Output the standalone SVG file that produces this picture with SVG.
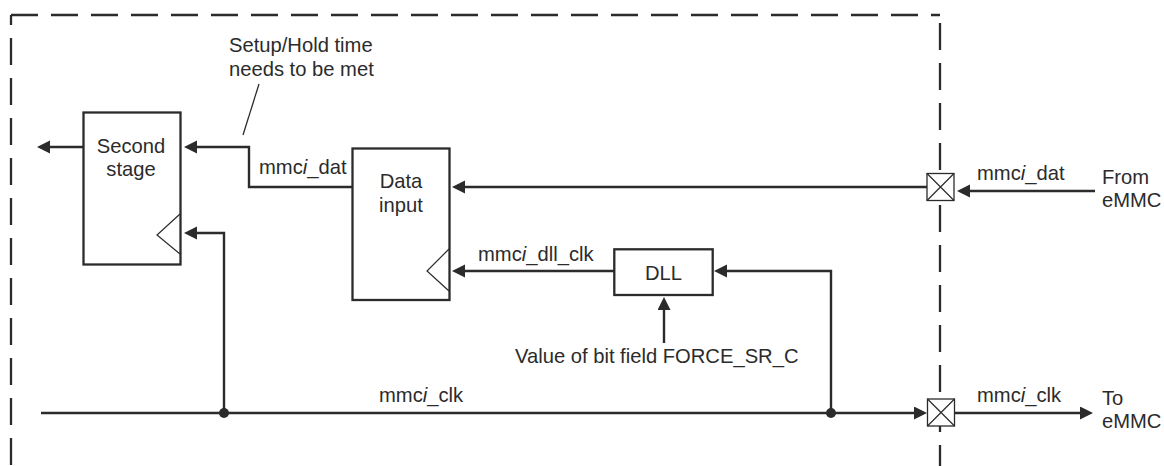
<svg xmlns="http://www.w3.org/2000/svg" width="1164" height="466" viewBox="0 0 1164 466">
<defs>
<marker id="arr" markerUnits="userSpaceOnUse" markerWidth="14" markerHeight="14" refX="1" refY="6.5" orient="auto">
<path d="M0,0 L13,6.5 L0,13 Z" fill="#2b2b2b"/>
</marker>
</defs>
<style>
text{font-family:"Liberation Sans",Arial,sans-serif;font-size:20.2px;fill:#2b2b2b}
.box{fill:#fff;stroke:#2b2b2b;stroke-width:2.3}
.clk{fill:none;stroke:#2b2b2b;stroke-width:1.2}
.a{fill:none;stroke:#2b2b2b;stroke-width:2.4;marker-end:url(#arr)}
.dash{fill:none;stroke:#2b2b2b;stroke-width:2.3;stroke-dasharray:27 13}
.pad{fill:#fff;stroke:#2b2b2b;stroke-width:1.3}
.it{font-style:italic}
</style>
<g id="boundary">
<line class="dash" x1="11" y1="15" x2="940" y2="15"/>
<line class="dash" x1="11" y1="15" x2="11" y2="470" stroke-dashoffset="17"/>
<line class="dash" x1="940" y1="15" x2="940" y2="173" stroke-dashoffset="32"/>
<line class="dash" x1="940" y1="200" x2="940" y2="470" stroke-dashoffset="35"/>
</g>
<g id="connectors">
<line class="a" x1="83" y1="147" x2="49" y2="147"/>
<path class="a" d="M352,187 H249 V147 H196"/>
<line class="a" x1="927" y1="187" x2="464" y2="187"/>
<line class="a" x1="1095" y1="191" x2="969" y2="191"/>
<line class="a" x1="41" y1="413" x2="915" y2="413"/>
<line class="a" x1="954" y1="413" x2="1081" y2="413"/>
<path class="a" d="M224,413 V233 H196"/>
<path class="a" d="M831,413 V271 H726"/>
<line class="a" x1="614" y1="271" x2="464" y2="271"/>
<line class="a" x1="664" y1="343" x2="664" y2="309"/>
<line x1="259" y1="84" x2="243" y2="135" stroke="#2b2b2b" stroke-width="1.3"/>
<circle cx="224" cy="413" r="5" fill="#2b2b2b"/>
<circle cx="831" cy="413" r="5" fill="#2b2b2b"/>
</g>
<g id="second-stage">
<rect class="box" x="83.5" y="112.5" width="97" height="152"/>
<path class="clk" d="M180,214 L157,235 L180,254"/>
<text x="131" y="153" text-anchor="middle">Second</text>
<text x="131" y="176" text-anchor="middle">stage</text>
</g>
<g id="data-input">
<rect class="box" x="352.5" y="148.5" width="97" height="151.5"/>
<path class="clk" d="M449,249 L427,271 L449,291"/>
<text x="401" y="188" text-anchor="middle">Data</text>
<text x="401" y="212" text-anchor="middle">input</text>
</g>
<g id="dll">
<rect class="box" x="614.3" y="249.3" width="98.4" height="45.7"/>
<text x="663.5" y="280" text-anchor="middle">DLL</text>
</g>
<g id="pad-dat">
<rect class="pad" x="927" y="173.5" width="27" height="27"/>
<path class="clk" d="M927,173.5 L954,200.5 M954,173.5 L927,200.5"/>
</g>
<g id="pad-clk">
<rect class="pad" x="927.5" y="399" width="27" height="27"/>
<path class="clk" d="M927.5,399 L954.5,426 M954.5,399 L927.5,426"/>
</g>
<g id="labels">
<text x="229" y="52">Setup/Hold time</text>
<text x="229" y="76">needs to be met</text>
<text x="259" y="174">mmc<tspan class="it">i</tspan>_dat</text>
<text x="478" y="261">mmc<tspan class="it">i</tspan>_dll_clk</text>
<text x="515" y="363">Value of bit field FORCE_SR_C</text>
<text x="379" y="402">mmc<tspan class="it">i</tspan>_clk</text>
<text x="977" y="180">mmc<tspan class="it">i</tspan>_dat</text>
<text x="1102" y="184">From</text>
<text x="1102" y="207">eMMC</text>
<text x="977" y="402">mmc<tspan class="it">i</tspan>_clk</text>
<text x="1102" y="405">To</text>
<text x="1102" y="428">eMMC</text>
</g>
</svg>
